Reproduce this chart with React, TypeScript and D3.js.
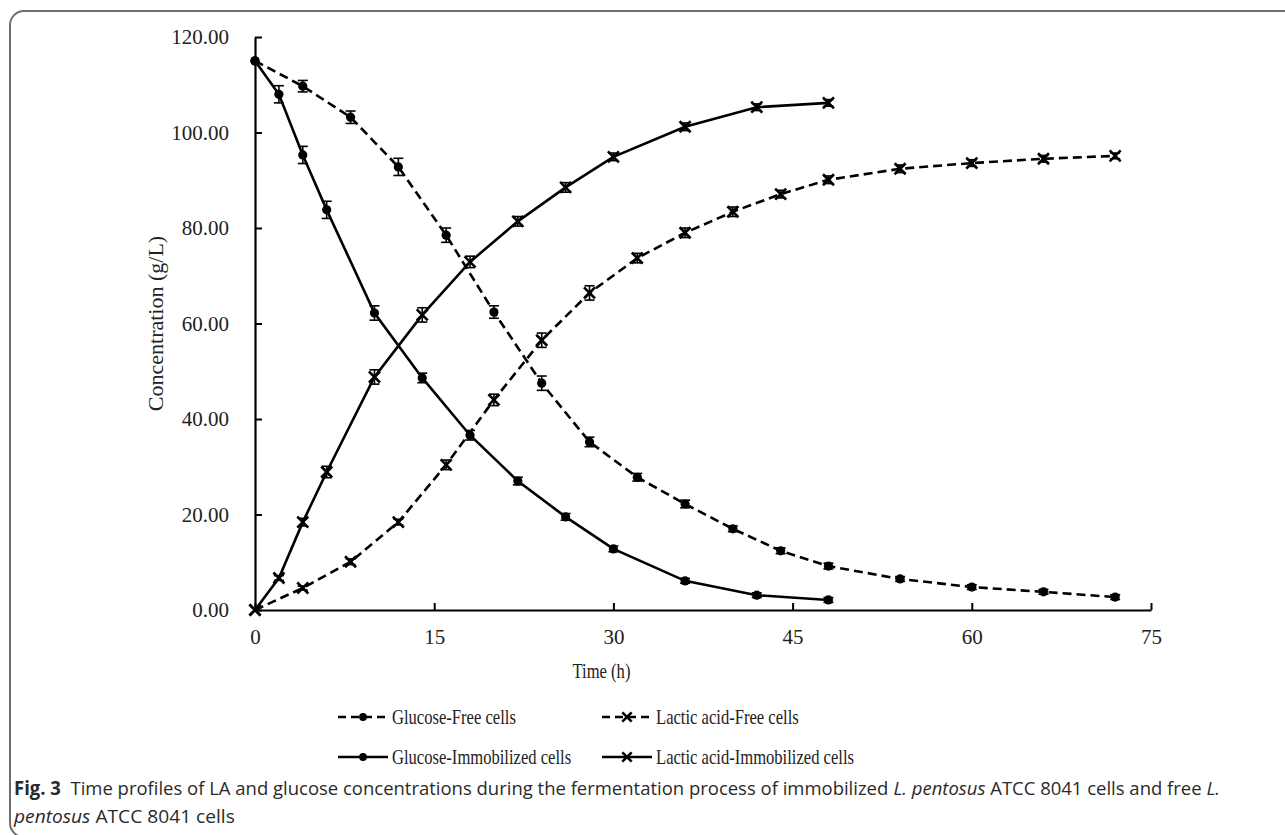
import { useEffect, useRef } from 'react';
import * as d3 from 'd3';

// sampling times (h)
const timeFree = [0, 4, 8, 12, 16, 20, 24, 28, 32, 36, 40, 44, 48, 54, 60, 66, 72];
const timeImmob = [0, 2, 4, 6, 10, 14, 18, 22, 26, 30, 36, 42, 48];

// concentrations (g/L) and error bars
const glucoseFree = [115, 109.7, 103.2, 92.8, 78.5, 62.4, 47.5, 35.2, 27.8, 22.2, 17.0, 12.4, 9.2, 6.5, 4.8, 3.8, 2.7];
const glucoseFreeErr = [0, 1.2, 1.3, 1.8, 1.5, 1.3, 1.5, 1.0, 0.8, 0.8, 0.6, 0.6, 0.6, 0.5, 0.5, 0.5, 0.5];
const lacticFree = [0, 4.6, 10.1, 18.4, 30.4, 44.0, 56.5, 66.4, 73.7, 79.0, 83.4, 87.1, 90.1, 92.4, 93.6, 94.5, 95.1];
const lacticFreeErr = [0, 0.4, 0.6, 0.6, 1.0, 1.2, 1.5, 1.5, 1.0, 1.0, 1.0, 0.8, 0.8, 0.8, 0.7, 0.7, 0.6];
const glucoseImmob = [115, 108, 95.3, 83.8, 62.2, 48.6, 36.6, 27.0, 19.5, 12.8, 6.1, 3.1, 2.1];
const glucoseImmobErr = [0, 1.8, 1.8, 1.8, 1.5, 1.0, 1.0, 0.8, 0.7, 0.6, 0.5, 0.5, 0.5];
const lacticImmob = [0, 6.7, 18.4, 28.9, 48.8, 61.8, 72.9, 81.4, 88.5, 94.9, 101.2, 105.3, 106.2];
const lacticImmobErr = [0, 0.5, 0.8, 1.2, 1.5, 1.5, 1.2, 1.0, 1.0, 0.8, 0.8, 0.7, 0.7];

const xTicks = [0, 15, 30, 45, 60, 75];
const yTicks = [0, 20, 40, 60, 80, 100, 120];

// caption pieces: [text, weight, style]
const captionLine1: [string, string, string][] = [
    ['Fig. 3', 'bold', 'normal'],
    ['\u00a0\u00a0Time profiles of LA and glucose concentrations during the fermentation process of immobilized\u00a0', 'normal', 'normal'],
    ['L. pentosus', 'normal', 'italic'],
    ['\u00a0ATCC 8041 cells and free\u00a0', 'normal', 'normal'],
    ['L.', 'normal', 'italic'],
];
const captionLine2: [string, string, string][] = [
    ['pentosus', 'normal', 'italic'],
    ['\u00a0ATCC 8041 cells', 'normal', 'normal'],
];

type Series = {
    name: string;
    times: number[];
    values: number[];
    errors: number[];
    dashed: boolean;
    marker: 'circle' | 'cross';
};

const seriesList: Series[] = [
    { name: 'Glucose-Free cells', times: timeFree, values: glucoseFree, errors: glucoseFreeErr, dashed: true, marker: 'circle' },
    { name: 'Lactic acid-Free cells', times: timeFree, values: lacticFree, errors: lacticFreeErr, dashed: true, marker: 'cross' },
    { name: 'Glucose-Immobilized cells', times: timeImmob, values: glucoseImmob, errors: glucoseImmobErr, dashed: false, marker: 'circle' },
    { name: 'Lactic acid-Immobilized cells', times: timeImmob, values: lacticImmob, errors: lacticImmobErr, dashed: false, marker: 'cross' },
];

const width = 1285;
const height = 835;
const margin = { top: 37, right: 134, bottom: 225, left: 255 };
const serif = "'Liberation Serif', 'Times New Roman', serif";
const sans = "'Open Sans', 'Noto Sans', sans-serif";
const squeeze = 0.83;

function Marker({ kind, x, y, size = 1 }: { kind: string; x: number; y: number; size?: number }) {
    if (kind === 'circle') return <circle cx={x} cy={y} r={4.6 * size} fill="#000" />;
    const s = 5.5 * size;
    return (
        <g stroke="#000" strokeWidth={2.6}>
            <line x1={x - s} y1={y - s} x2={x + s} y2={y + s} />
            <line x1={x - s} y1={y + s} x2={x + s} y2={y - s} />
        </g>
    );
}

// lay caption pieces side by side, then squeeze the group to the target width
function layCaption(g: SVGGElement, pieces: [string, string, string][], targetWidth: number) {
    const sel = d3.select(g);
    sel.selectAll('*').remove();
    let offset = 0;
    pieces.forEach(([t, w, st]) => {
        const node = sel.append('text')
            .attr('x', offset)
            .attr('font-family', sans)
            .attr('font-size', 19)
            .attr('font-weight', w)
            .attr('font-style', st)
            .attr('fill', '#2a2a2a')
            .text(t)
            .node() as SVGTextElement;
        offset += node.getComputedTextLength();
    });
    const k = offset > 0 ? targetWidth / offset : 1;
    const base = sel.attr('data-base') || '';
    sel.attr('transform', `${base} scale(${k},1)`);
}

export default function App() {
    const xAxisRef = useRef<SVGGElement>(null);
    const yAxisRef = useRef<SVGGElement>(null);
    const cap1Ref = useRef<SVGGElement>(null);
    const cap2Ref = useRef<SVGGElement>(null);

    const x = d3.scaleLinear().domain([0, 75]).range([margin.left, width - margin.right]);
    const y = d3.scaleLinear().domain([0, 120]).range([height - margin.bottom, margin.top]);

    useEffect(() => {
        const xa = d3.select(xAxisRef.current!);
        xa.call(d3.axisBottom(x).tickValues(xTicks).tickSize(-7).tickSizeOuter(0).tickPadding(19).tickFormat(d3.format('d')));
        xa.select('.domain').attr('stroke-width', 2.2);
        xa.selectAll('.tick line').attr('stroke-width', 2);
        xa.selectAll('.tick text').attr('font-size', 21).attr('font-family', serif).attr('fill', '#222');

        const ya = d3.select(yAxisRef.current!);
        ya.call(d3.axisLeft(y).tickValues(yTicks).tickSize(-7).tickSizeOuter(0).tickPadding(26).tickFormat(d3.format('.2f')));
        ya.select('.domain').attr('stroke-width', 2.2);
        ya.selectAll('.tick line').attr('stroke-width', 2);
        ya.selectAll('.tick text').attr('font-size', 21).attr('font-family', serif).attr('fill', '#222');

        layCaption(cap1Ref.current!, captionLine1, 1206);
        layCaption(cap2Ref.current!, captionLine2, 221);
    }, []);

    const line = (s: Series) =>
        d3.line<number>()
            .x((_, i) => x(s.times[i]))
            .y(v => y(v))(s.values) || '';

    // legend layout: two columns, two rows
    const legendCols = [338, 602];
    const legendRows = [717, 757];

    return (
        <svg width={width} height={height} style={{ position: 'absolute', left: 0, top: 0, background: '#fff' }}>
            <rect x={10} y={11} width={1400} height={826} rx={14} fill="none" stroke="#6e6e6e" strokeWidth={2} />

            <g ref={xAxisRef} transform={`translate(0,${height - margin.bottom})`} />
            <g ref={yAxisRef} transform={`translate(${margin.left},0)`} />

            {seriesList.map(s => (
                <path key={s.name} d={line(s)} fill="none" stroke="#000" strokeWidth={2.6}
                    strokeDasharray={s.dashed ? '9,5' : undefined} />
            ))}

            {seriesList.map(s => (
                <g key={s.name + '-err'} stroke="#000" strokeWidth={1.6}>
                    {s.values.map((v, i) => s.errors[i] > 0 && (
                        <g key={i}>
                            <line x1={x(s.times[i])} x2={x(s.times[i])} y1={y(v - s.errors[i])} y2={y(v + s.errors[i])} />
                            <line x1={x(s.times[i]) - 5} x2={x(s.times[i]) + 5} y1={y(v - s.errors[i])} y2={y(v - s.errors[i])} />
                            <line x1={x(s.times[i]) - 5} x2={x(s.times[i]) + 5} y1={y(v + s.errors[i])} y2={y(v + s.errors[i])} />
                        </g>
                    ))}
                </g>
            ))}

            {seriesList.map(s => (
                <g key={s.name + '-pts'}>
                    {s.values.map((v, i) => <Marker key={i} kind={s.marker} x={x(s.times[i])} y={y(v)} />)}
                </g>
            ))}

            <text transform={`translate(163,${(y(0) + y(120)) / 2}) rotate(-90)`} textAnchor="middle"
                fontFamily={serif} fontSize={22} fill="#222">Concentration (g/L)</text>
            <text transform={`translate(${x(29)},678) scale(${squeeze},1)`} textAnchor="middle"
                fontFamily={serif} fontSize={20} fill="#222">Time (h)</text>

            {seriesList.map((s, i) => {
                const lx = legendCols[i % 2];
                const ly = legendRows[Math.floor(i / 2)];
                return (
                    <g key={s.name + '-leg'}>
                        <line x1={lx} x2={lx + 50} y1={ly} y2={ly} stroke="#000" strokeWidth={2.6}
                            strokeDasharray={s.dashed ? '8,5' : undefined} />
                        <Marker kind={s.marker} x={lx + 25} y={ly} size={0.85} />
                        <text transform={`translate(${lx + 54},${ly + 7}) scale(${squeeze},1)`}
                            fontFamily={serif} fontSize={20} fill="#222">{s.name}</text>
                    </g>
                );
            })}

            <g ref={cap1Ref} data-base="translate(14,795)" transform="translate(14,795)" />
            <g ref={cap2Ref} data-base="translate(14,823)" transform="translate(14,823)" />
        </svg>
    );
}
